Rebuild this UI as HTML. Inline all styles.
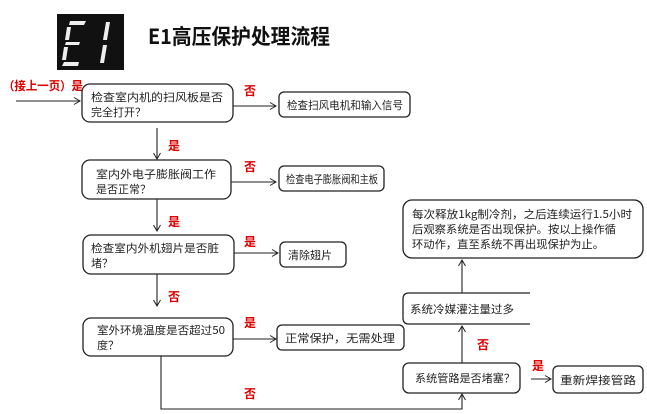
<!DOCTYPE html>
<html><head><meta charset="utf-8"><style>
html,body{margin:0;padding:0;background:#fff;}
svg{display:block;}
text{font-family:"Noto Sans CJK SC","Liberation Sans",sans-serif;}
.t{font-size:11px;fill:#222;}
.r{font-size:12px;fill:#d00;font-weight:bold;}
.b{fill:#fff;stroke:#222;stroke-width:1.3;}
.l{stroke:#222;stroke-width:1.1;fill:none;}
</style></head><body>
<svg width="647" height="414" viewBox="0 0 647 414" xmlns="http://www.w3.org/2000/svg">
<defs><marker id="a" markerWidth="8" markerHeight="8" refX="7" refY="4" orient="auto" markerUnits="userSpaceOnUse"><path d="M1,0.5 L7,4 L1,7.5" fill="none" stroke="#222" stroke-width="1"/></marker></defs>
<rect x="57" y="14" width="67" height="56" fill="#111"/>
<g fill="#eee">
<polygon points="70,21 86,21 84,25 69,25"/>
<polygon points="67,27 71,27 69,40 65,40"/>
<polygon points="66,42 80,42 79,45 65,45"/>
<polygon points="64,47 68,47 66,60 62,60"/>
<polygon points="64,62 79,62 78,66 62,66"/>
<polygon points="106,22 110,22 107,40 103,40"/>
<polygon points="103,45 107,45 104,63 100,63"/>
</g>
<text x="148" y="44" textLength="182" lengthAdjust="spacingAndGlyphs" style="font-size:21px;font-weight:bold;fill:#111">E1高压保护处理流程</text>
<text x="3" y="90" class="r" textLength="80" lengthAdjust="spacingAndGlyphs">（接上一页）是</text>
<line x1="16" y1="101" x2="80" y2="101" class="l" marker-end="url(#a)"/>
<rect x="82" y="84" width="151" height="38" rx="8" class="b"/>
<text x="91" y="101" class="t" textLength="132" lengthAdjust="spacingAndGlyphs">检查室内机的扫风板是否</text>
<text x="91" y="116" class="t">完全打开？</text>
<line x1="233" y1="106" x2="276" y2="106" class="l" marker-end="url(#a)"/>
<text x="244" y="95" class="r">否</text>
<rect x="279" y="92" width="131" height="25" rx="5" class="b"/>
<text x="287" y="109" class="t" textLength="116" lengthAdjust="spacingAndGlyphs">检查扫风电机和输入信号</text>
<line x1="157" y1="128" x2="157" y2="159" class="l" marker-end="url(#a)"/>
<text x="168" y="150" class="r">是</text>
<rect x="82" y="160" width="149" height="39" rx="8" class="b"/>
<text x="96" y="178" class="t" textLength="120" lengthAdjust="spacingAndGlyphs">室内外电子膨胀阀工作</text>
<text x="96" y="193" class="t">是否正常？</text>
<line x1="231" y1="182" x2="276" y2="182" class="l" marker-end="url(#a)"/>
<text x="244" y="171" class="r">否</text>
<rect x="279" y="166" width="105" height="25" rx="5" class="b"/>
<text x="286" y="183" class="t" textLength="92" lengthAdjust="spacingAndGlyphs">检查电子膨胀阀和主板</text>
<line x1="157" y1="199" x2="157" y2="231" class="l" marker-end="url(#a)"/>
<text x="168" y="226" class="r">是</text>
<rect x="83" y="235" width="151" height="39" rx="8" class="b"/>
<text x="91" y="252" class="t" textLength="128" lengthAdjust="spacingAndGlyphs">检查室内外机翅片是否脏</text>
<text x="91" y="267" class="t">堵？</text>
<line x1="234" y1="253" x2="278" y2="253" class="l" marker-end="url(#a)"/>
<text x="244" y="246" class="r">是</text>
<rect x="280" y="242" width="66" height="25" rx="5" class="b"/>
<text x="288" y="259" class="t">清除翅片</text>
<line x1="157" y1="274" x2="157" y2="306" class="l" marker-end="url(#a)"/>
<text x="168" y="301" class="r">否</text>
<rect x="83" y="318" width="150" height="38" rx="8" class="b"/>
<text x="97" y="334" class="t" textLength="128" lengthAdjust="spacingAndGlyphs">室外环境温度是否超过50</text>
<text x="97" y="349" class="t">度？</text>
<line x1="233" y1="339" x2="276" y2="339" class="l" marker-end="url(#a)"/>
<text x="244" y="327" class="r">是</text>
<rect x="277" y="325" width="127" height="25" rx="5" class="b"/>
<text x="285" y="342" class="t" textLength="110" lengthAdjust="spacingAndGlyphs">正常保护，无需处理</text>
<polyline points="161,356 161,409 462,409 462,394" class="l" marker-end="url(#a)"/>
<text x="244" y="398" class="r">否</text>
<rect x="403" y="363" width="117" height="30" rx="6" class="b"/>
<text x="415" y="382" class="t" textLength="100" lengthAdjust="spacingAndGlyphs">系统管路是否堵塞？</text>
<line x1="531" y1="379" x2="551" y2="379" class="l" marker-end="url(#a)"/>
<text x="532" y="370" class="r">是</text>
<rect x="553" y="366" width="90" height="27" rx="5" class="b"/>
<text x="560" y="384" class="t" textLength="76" lengthAdjust="spacingAndGlyphs">重新焊接管路</text>
<line x1="462" y1="363" x2="462" y2="326" class="l" marker-end="url(#a)"/>
<text x="477" y="349" class="r">否</text>
<path d="M530,293 L409,293 Q403,293 403,299 L403,318 Q403,324 409,324 L530,324" class="b"/>
<text x="410" y="313" class="t" textLength="104" lengthAdjust="spacingAndGlyphs">系统冷媒灌注量过多</text>
<line x1="462" y1="293" x2="462" y2="260" class="l" marker-end="url(#a)"/>
<rect x="403" y="200" width="240" height="58" rx="9" class="b"/>
<text x="412" y="218" class="t" textLength="220" lengthAdjust="spacingAndGlyphs">每次释放1kg制冷剂，之后连续运行1.5小时</text>
<text x="412" y="233" class="t" textLength="204" lengthAdjust="spacingAndGlyphs">后观察系统是否出现保护。按以上操作循</text>
<text x="412" y="248" class="t" textLength="192" lengthAdjust="spacingAndGlyphs">环动作，直至系统不再出现保护为止。</text>
</svg>
</body></html>
